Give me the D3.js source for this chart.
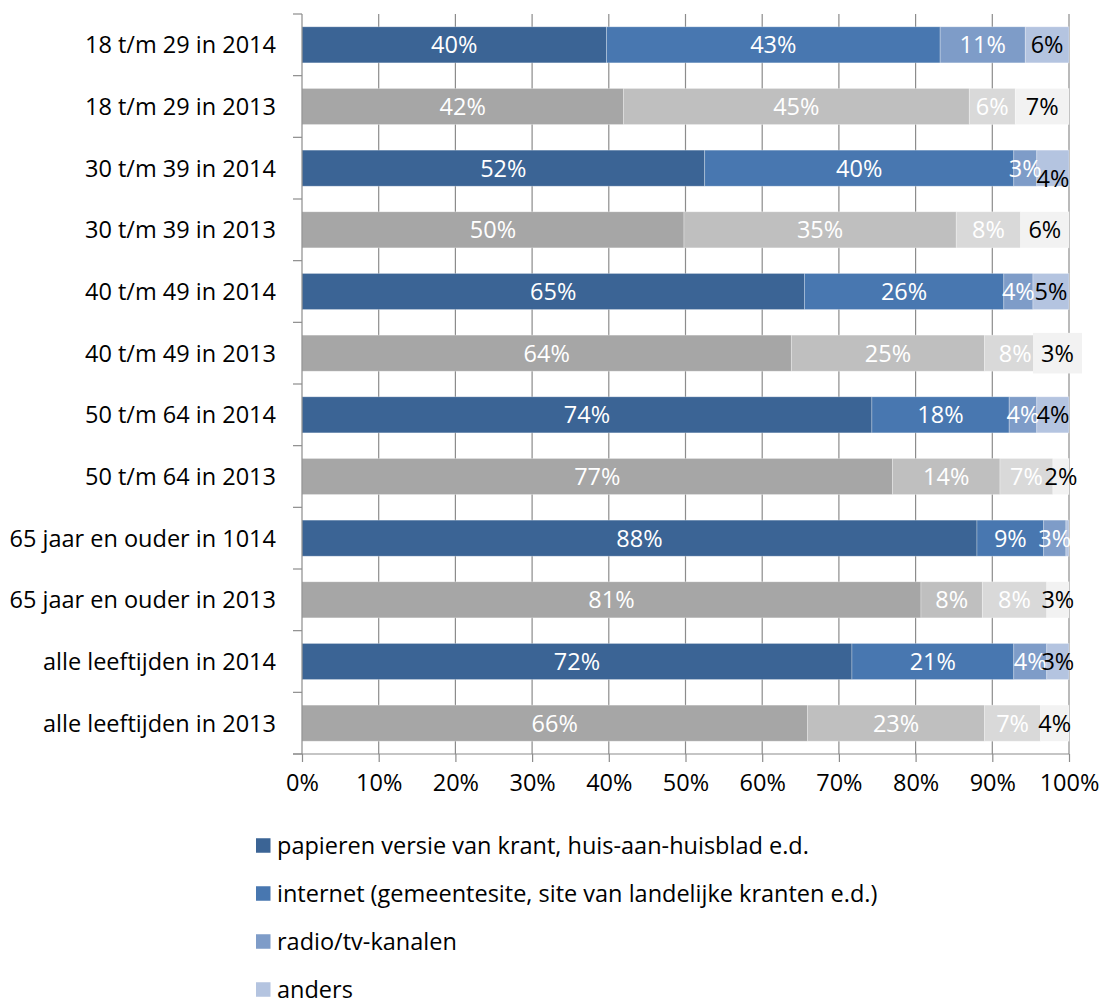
<!DOCTYPE html>
<html>
<head>
<meta charset="utf-8">
<script src="https://cdn.jsdelivr.net/npm/d3@7"></script>
<style>
  html, body { margin: 0; padding: 0; background: #fff; }
  svg { display: block; font-family: "Open Sans", Lato, sans-serif; }
</style>
</head>
<body>
<div id="chart"></div>
<script>

// Rows, top to bottom
const categories = [
    '18 t/m 29 in 2014', '18 t/m 29 in 2013',
    '30 t/m 39 in 2014', '30 t/m 39 in 2013',
    '40 t/m 49 in 2014', '40 t/m 49 in 2013',
    '50 t/m 64 in 2014', '50 t/m 64 in 2013',
    '65 jaar en ouder in 1014', '65 jaar en ouder in 2013',
    'alle leeftijden in 2014', 'alle leeftijden in 2013'
];
const years = [2014, 2013, 2014, 2013, 2014, 2013, 2014, 2013, 2014, 2013, 2014, 2013];

const seriesNames = [
    'papieren versie van krant, huis-aan-huisblad e.d.',
    'internet (gemeentesite, site van landelijke kranten e.d.)',
    'radio/tv-kanalen',
    'anders'
];

// segment widths (percent)
const papier   = [39.7, 41.9, 52.5, 49.8, 65.5, 63.8, 74.3, 77.0, 88.0, 80.7, 71.7, 65.9];
const internet = [43.5, 45.1, 40.3, 35.5, 26.0, 25.2, 17.9, 14.0,  8.7,  8.0, 21.1, 23.1];
const radio    = [11.1,  6.0,  3.0,  8.4,  3.8,  8.0,  3.6,  6.9,  2.9,  8.4,  4.3,  7.3];
const anders   = [ 5.7,  7.0,  4.2,  6.3,  4.7,  3.0,  4.2,  2.1,  0.4,  2.9,  2.9,  3.7];

// data labels as printed in the chart
const papierLabels   = ['40%', '42%', '52%', '50%', '65%', '64%', '74%', '77%', '88%', '81%', '72%', '66%'];
const internetLabels = ['43%', '45%', '40%', '35%', '26%', '25%', '18%', '14%', '9%', '8%', '21%', '23%'];
const radioLabels    = ['11%', '6%', '3%', '8%', '4%', '8%', '4%', '7%', '3%', '8%', '4%', '7%'];
const andersLabels   = ['6%', '7%', '4%', '6%', '5%', '3%', '4%', '2%', '', '3%', '3%', '4%'];

const xTicks = [0, 10, 20, 30, 40, 50, 60, 70, 80, 90, 100];

const values = [papier, internet, radio, anders];
const labels = [papierLabels, internetLabels, radioLabels, andersLabels];

const colors = {
    2014 : ['#3b6495', '#4877b0', '#7e9cc8', '#b4c4e0'],
    2013 : ['#a6a6a6', '#bfbfbf', '#d9d9d9', '#f2f2f2']
};

const width = 1102, height = 998;
const plot = { left : 302, right : 1069, top : 14, bottom : 754 };
const fontSize = 23.5;

const svg = d3.select('#chart').append('svg')
    .attr('width', width)
    .attr('height', height);

const x = d3.scaleLinear()
    .domain([0, 100])
    .range([plot.left, plot.right]);

const y = d3.scaleBand()
    .domain(categories)
    .range([plot.top, plot.bottom])
    .paddingInner(0.415)
    .paddingOuter(0.2075);

// gridlines
svg.append('g')
    .selectAll('line')
    .data(xTicks.slice(1))
    .join('line')
    .attr('x1', d => x(d)).attr('x2', d => x(d))
    .attr('y1', plot.top).attr('y2', plot.bottom)
    .attr('stroke', '#8c8c8c')
    .attr('stroke-width', 1.2);

// stacked rows
const rows = categories.map((c, i) => {
    let start = 0;
    return values.map((s, k) => {
        const seg = { cat : c, k, year : years[i], x0 : start, x1 : start + s[i], label : labels[k][i] };
        start += s[i];
        return seg;
    });
});
const segments = rows.flat();

svg.append('g')
    .selectAll('rect')
    .data(segments)
    .join('rect')
    .attr('x', d => x(d.x0))
    .attr('y', d => y(d.cat))
    .attr('width', d => x(d.x1) - x(d.x0))
    .attr('height', y.bandwidth())
    .attr('fill', d => colors[d.year][d.k])
    .attr('stroke', 'rgba(255,255,255,0.35)')
    .attr('stroke-width', 0.8);

// this one label sits on a filled box wider than its segment
const boxed = ['40 t/m 49 in 2013'];
// and this one was pushed down a little in the original
const nudged = { '30 t/m 39 in 2014' : 10 };

const labelG = svg.append('g')
    .attr('font-size', fontSize);

labelG.selectAll('rect')
    .data(segments.filter(d => d.k === 3 && boxed.includes(d.cat)))
    .join('rect')
    .attr('x', d => x((d.x0 + d.x1) / 2) - 24.5)
    .attr('y', d => y(d.cat) + y.bandwidth() / 2 - 20.3)
    .attr('width', 49)
    .attr('height', 40.6)
    .attr('fill', d => colors[d.year][3]);

labelG.selectAll('text')
    .data(segments.filter(d => d.label !== ''))
    .join('text')
    .attr('x', d => x((d.x0 + d.x1) / 2))
    .attr('y', d => y(d.cat) + y.bandwidth() / 2 + (d.k === 3 && nudged[d.cat] ? nudged[d.cat] : 0))
    .attr('dy', '0.36em')
    .attr('text-anchor', 'middle')
    .attr('fill', d => d.k === 3 ? '#000' : '#fff')
    .text(d => d.label);

// y axis
const yAxis = svg.append('g');
yAxis.append('line')
    .attr('x1', plot.left).attr('x2', plot.left)
    .attr('y1', plot.top).attr('y2', plot.bottom)
    .attr('stroke', '#8c8c8c').attr('stroke-width', 1.2);
yAxis.selectAll('line.tick')
    .data(d3.range(categories.length + 1))
    .join('line')
    .attr('class', 'tick')
    .attr('x1', plot.left - 9).attr('x2', plot.left)
    .attr('y1', i => plot.top + i * y.step())
    .attr('y2', i => plot.top + i * y.step())
    .attr('stroke', '#8c8c8c').attr('stroke-width', 1.2);
yAxis.selectAll('text')
    .data(categories)
    .join('text')
    .attr('x', 276)
    .attr('y', d => y(d) + y.bandwidth() / 2)
    .attr('dy', '0.36em')
    .attr('text-anchor', 'end')
    .attr('font-size', fontSize)
    .attr('fill', '#000')
    .text(d => d);

// x axis
const xAxis = svg.append('g')
    .attr('transform', `translate(0,${plot.bottom})`)
    .call(d3.axisBottom(x).tickValues(xTicks).tickSize(8).tickPadding(12).tickFormat(d => d + '%'));
xAxis.select('.domain')
    .attr('d', `M${plot.left - 9},0H${plot.right}`)
    .attr('stroke', '#8c8c8c').attr('stroke-width', 1.2);
xAxis.selectAll('.tick line').attr('stroke', '#8c8c8c').attr('stroke-width', 1.2);
xAxis.selectAll('.tick text')
    .attr('font-size', fontSize)
    .attr('font-family', '"Open Sans", Lato, sans-serif')
    .attr('fill', '#000');

// legend
const legend = svg.append('g')
    .selectAll('g')
    .data(seriesNames)
    .join('g')
    .attr('transform', (d, i) => `translate(256,${845.5 + i * 48})`);

legend.append('rect')
    .attr('x', 0).attr('y', -7.25)
    .attr('width', 14.5).attr('height', 14.5)
    .attr('fill', (d, i) => colors[2014][i]);

legend.append('text')
    .attr('x', 21)
    .attr('dy', '0.36em')
    .attr('font-size', fontSize)
    .attr('fill', '#000')
    .text(d => d);

</script>
</body>
</html>
